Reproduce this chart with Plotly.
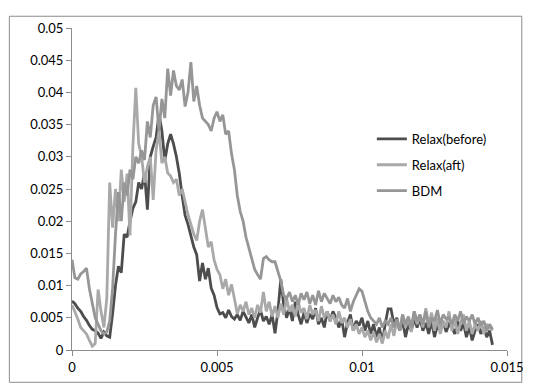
import numpy as np
import plotly.graph_objects as go

x_step = 0.0001
n_points = 146
x_vals = [round(i * x_step, 4) for i in range(n_points)]

relax_before = [
    0.0076, 0.0072, 0.0065, 0.0060, 0.0052, 0.0046, 0.0038, 0.0032, 0.0030, 0.0026,
    0.0018, 0.0028, 0.0022, 0.0020, 0.0056, 0.0100, 0.0130, 0.0120, 0.0180, 0.0175,
    0.0200, 0.0220, 0.0230, 0.0260, 0.0250, 0.0275, 0.0218, 0.0300, 0.0316, 0.0330,
    0.0366, 0.0340, 0.0294, 0.0320, 0.0335, 0.0320, 0.0300, 0.0274, 0.0239, 0.0209,
    0.0195, 0.0178, 0.0160, 0.0148, 0.0107, 0.0135, 0.0110, 0.0127, 0.0096, 0.0085,
    0.0066, 0.0056, 0.0058, 0.0050, 0.0062, 0.0052, 0.0048, 0.0055, 0.0046, 0.0060,
    0.0050, 0.0042, 0.0055, 0.0035, 0.0050, 0.0062, 0.0045, 0.0052, 0.0040, 0.0055,
    0.0026, 0.0060, 0.0110, 0.0070, 0.0050, 0.0065, 0.0045, 0.0075, 0.0055, 0.0040,
    0.0058, 0.0042, 0.0056, 0.0048, 0.0065, 0.0040, 0.0050, 0.0035, 0.0060, 0.0045,
    0.0060, 0.0050, 0.0035, 0.0048, 0.0020, 0.0042, 0.0055, 0.0030, 0.0045, 0.0038,
    0.0050, 0.0030, 0.0045, 0.0025, 0.0040, 0.0020, 0.0035, 0.0012, 0.0040, 0.0064,
    0.0064, 0.0040, 0.0050, 0.0030, 0.0045, 0.0020, 0.0040, 0.0030, 0.0048, 0.0035,
    0.0049, 0.0030, 0.0042, 0.0025, 0.0045, 0.0020, 0.0038, 0.0030, 0.0045, 0.0028,
    0.0040, 0.0035, 0.0025, 0.0045, 0.0030, 0.0042, 0.0020, 0.0035, 0.0015, 0.0030,
    0.0040, 0.0025, 0.0035, 0.0020, 0.0030, 0.0008,
]

relax_aft = [
    0.0070, 0.0060, 0.0048, 0.0035, 0.0030, 0.0025, 0.0015, 0.0006, 0.0010, 0.0094,
    0.0060, 0.0035, 0.0080, 0.0260, 0.0190, 0.0250, 0.0200, 0.0280, 0.0230, 0.0274,
    0.0178, 0.0316, 0.0407, 0.0320, 0.0300, 0.0260, 0.0285, 0.0300, 0.0233, 0.0310,
    0.0340, 0.0290, 0.0300, 0.0275, 0.0270, 0.0260, 0.0265, 0.0240, 0.0250, 0.0229,
    0.0210, 0.0195, 0.0180, 0.0170, 0.0200, 0.0218, 0.0190, 0.0160, 0.0168, 0.0140,
    0.0125, 0.0117, 0.0095, 0.0110, 0.0085, 0.0102, 0.0080, 0.0056, 0.0070, 0.0060,
    0.0075, 0.0055, 0.0065, 0.0050, 0.0070, 0.0058, 0.0090, 0.0060, 0.0075, 0.0052,
    0.0068, 0.0050, 0.0072, 0.0055, 0.0080, 0.0060, 0.0070, 0.0052, 0.0075, 0.0058,
    0.0065, 0.0048, 0.0070, 0.0055, 0.0062, 0.0045, 0.0068, 0.0050, 0.0060, 0.0045,
    0.0055, 0.0040, 0.0060, 0.0042, 0.0050, 0.0035, 0.0048, 0.0030, 0.0040, 0.0025,
    0.0035, 0.0020, 0.0030, 0.0015, 0.0028, 0.0012, 0.0025, 0.0010, 0.0030, 0.0018,
    0.0040, 0.0022, 0.0045, 0.0030, 0.0055, 0.0035, 0.0050, 0.0028, 0.0060, 0.0040,
    0.0055, 0.0035, 0.0065, 0.0040, 0.0058, 0.0030, 0.0050, 0.0025, 0.0045, 0.0035,
    0.0060, 0.0030, 0.0048, 0.0025, 0.0042, 0.0055, 0.0030, 0.0045, 0.0025, 0.0040,
    0.0030, 0.0045, 0.0025, 0.0040, 0.0035, 0.0030,
]

bdm = [
    0.0140, 0.0112, 0.0110, 0.0118, 0.0122, 0.0127, 0.0095, 0.0070, 0.0050, 0.0040,
    0.0030, 0.0025, 0.0028, 0.0045, 0.0096, 0.0180, 0.0245, 0.0200, 0.0260, 0.0240,
    0.0280, 0.0265, 0.0300, 0.0290, 0.0310, 0.0295, 0.0355, 0.0330, 0.0380, 0.0393,
    0.0340, 0.0390, 0.0360, 0.0437, 0.0395, 0.0434, 0.0410, 0.0404, 0.0420, 0.0378,
    0.0400, 0.0447, 0.0386, 0.0410, 0.0380, 0.0360, 0.0355, 0.0350, 0.0340, 0.0360,
    0.0370, 0.0355, 0.0365, 0.0335, 0.0340, 0.0305, 0.0280, 0.0240, 0.0215, 0.0200,
    0.0175, 0.0157, 0.0140, 0.0125, 0.0117, 0.0110, 0.0142, 0.0145, 0.0140, 0.0137,
    0.0137, 0.0120, 0.0107, 0.0085, 0.0080, 0.0090, 0.0075, 0.0085, 0.0070, 0.0088,
    0.0078, 0.0090, 0.0072, 0.0085, 0.0070, 0.0092, 0.0075, 0.0088, 0.0080, 0.0072,
    0.0085, 0.0075, 0.0082, 0.0070, 0.0065, 0.0080, 0.0060, 0.0075, 0.0085, 0.0095,
    0.0091, 0.0075, 0.0060, 0.0050, 0.0045, 0.0040, 0.0050, 0.0035, 0.0045, 0.0040,
    0.0050, 0.0035, 0.0048, 0.0030, 0.0055, 0.0040, 0.0052, 0.0035, 0.0060, 0.0045,
    0.0055, 0.0040, 0.0060, 0.0035, 0.0050, 0.0045, 0.0062, 0.0040, 0.0055, 0.0048,
    0.0050, 0.0040, 0.0055, 0.0045, 0.0060, 0.0040, 0.0052, 0.0045, 0.0055, 0.0040,
    0.0050, 0.0038, 0.0045, 0.0030, 0.0040, 0.0032,
]

series_names = ["Relax(before)", "Relax(aft)", "BDM"]
series_colors = ["#4d4d4d", "#a9a9a9", "#969696"]

x_tickvals = [0, 0.005, 0.01, 0.015]
x_ticktext = ["0", "0.005", "0.01", "0.015"]
y_tickvals = [0, 0.005, 0.01, 0.015, 0.02, 0.025, 0.03, 0.035, 0.04, 0.045, 0.05]
y_ticktext = ["0", "0.005", "0.01", "0.015", "0.02", "0.025", "0.03", "0.035", "0.04", "0.045", "0.05"]

# page body has an 8px margin; the figure is drawn starting at (8, 8)
OFF = 8
W, H = 536 - OFF, 387 - OFF
L, R, T, B = 72 - OFF, 23, 21 - OFF, 37
pw = W - L - R
ph = H - T - B

fig = go.Figure()
for i, (name, ys, col) in enumerate(zip(series_names, [relax_before, relax_aft, bdm], series_colors)):
    fig.add_trace(go.Scatter(
        x=x_vals, y=ys, mode="lines", name=name,
        line=dict(color=col, width=2.8),
        legendgroup=f"g{i}",
    ))

# outer chart border (page coords 8..528 x 9..383)
fig.add_shape(
    type="rect", xref="paper", yref="paper",
    x0=(8 - OFF - L + 0.5) / pw, x1=(528 - OFF - L) / pw,
    y0=(H - B - (383 - OFF)) / ph, y1=(H - B - (9 - OFF)) / ph,
    line=dict(color="#8c8c8c", width=1), layer="below",
)

font_family = "Lato, 'Open Sans', sans-serif"
fig.update_layout(
    width=W, height=H,
    margin=dict(l=L, r=R, t=T, b=B),
    paper_bgcolor="white", plot_bgcolor="white",
    font=dict(family=font_family, size=13, color="#000000"),
    showlegend=True,
    legend=dict(
        x=(376 - OFF - L) / pw, y=(H - B - (119 - OFF)) / ph,
        xanchor="left", yanchor="top",
        bgcolor="rgba(0,0,0,0)",
        tracegroupgap=6,
        font=dict(family=font_family, size=13, color="#000000"),
    ),
    xaxis=dict(
        range=[0, 0.015], tickvals=x_tickvals, ticktext=x_ticktext,
        showgrid=False, zeroline=False,
        showline=True, linecolor="#8c8c8c", linewidth=1,
        ticks="outside", ticklen=5, tickcolor="#8c8c8c",
    ),
    yaxis=dict(
        range=[0, 0.05], tickvals=y_tickvals, ticktext=y_ticktext,
        showgrid=False, zeroline=False,
        showline=True, linecolor="#8c8c8c", linewidth=1,
        ticks="outside", ticklen=5, tickcolor="#8c8c8c",
    ),
)

fig.write_html("out.html")
